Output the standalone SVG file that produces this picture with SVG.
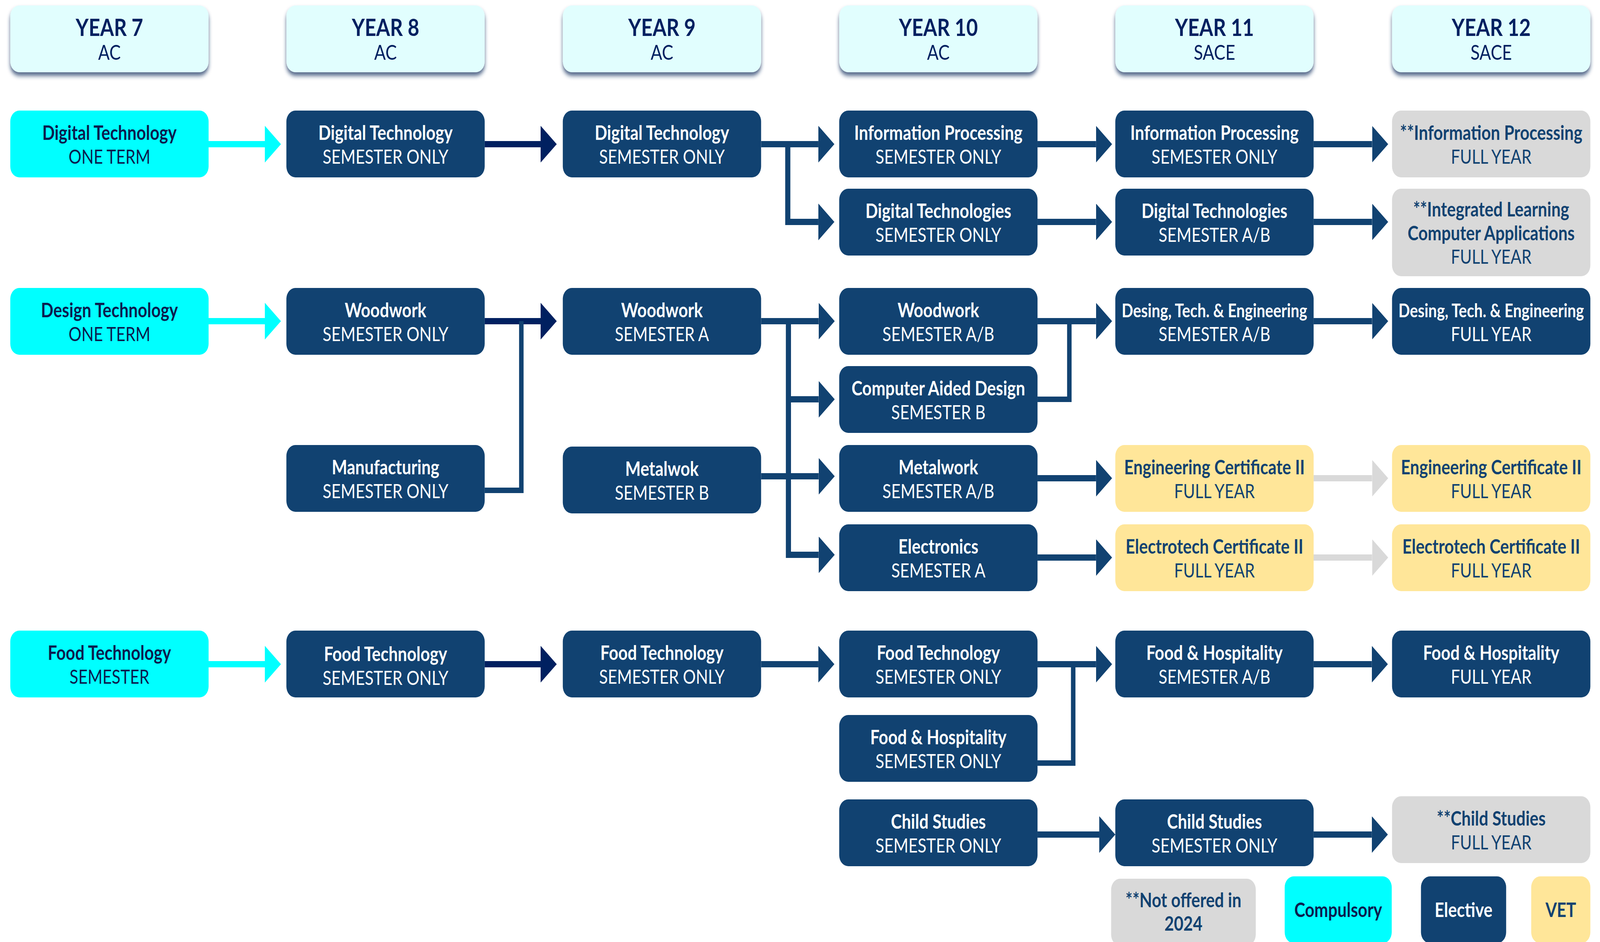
<svg xmlns="http://www.w3.org/2000/svg" width="4978" height="2411" viewBox="0 0 4978 2411" preserveAspectRatio="none">
<defs>
<style>
svg:root{width:100vw;height:100vh}
text{font-family:Lato,"Open Sans","Liberation Sans",sans-serif;text-anchor:middle}
.t1{font-size:51px;font-weight:700}
.t1s{font-size:47px;font-weight:700}
.t2{font-size:50px;font-weight:400}
.l1{font-size:51px;font-weight:700}
.h1{font-size:62px;font-weight:700;fill:#002060}
.h2{font-size:53px;font-weight:400;fill:#002060}
.hdr rect{fill:#E1FEFE;filter:url(#sh)}
.comp rect{fill:#00FFFF}
.comp text{fill:#0B1D4F}
.elec rect{fill:#114271}
.elec text{fill:#FFFFFF}
.na rect{fill:#D9D9D9}
.na text{fill:#114271}
.vet rect{fill:#FFE699}
.vet text{fill:#114271}
.c{fill:none;stroke-width:16;stroke-linejoin:miter}
.cy{stroke:#00FFFF;marker-end:url(#aCy)}
.nv{stroke:#002060;marker-end:url(#aNv)}
.bl{stroke:#114271;marker-end:url(#aBl)}
.fd{stroke:#114271;stroke-width:14}
.gy{stroke:#D9D9D9;marker-end:url(#aGy)}
</style>
<filter id="sh" x="-10%" y="-20%" width="120%" height="150%">
<feDropShadow dx="0" dy="9" stdDeviation="6" flood-color="#1F3864" flood-opacity="0.75"/>
</filter>
<marker id="aCy" markerUnits="userSpaceOnUse" viewBox="0 0 50 94" markerWidth="50" markerHeight="94" refX="0" refY="47" orient="auto"><path d="M0,0L50,47L0,94Z" fill="#00FFFF"/></marker>
<marker id="aNv" markerUnits="userSpaceOnUse" viewBox="0 0 50 94" markerWidth="50" markerHeight="94" refX="0" refY="47" orient="auto"><path d="M0,0L50,47L0,94Z" fill="#002060"/></marker>
<marker id="aBl" markerUnits="userSpaceOnUse" viewBox="0 0 50 94" markerWidth="50" markerHeight="94" refX="0" refY="47" orient="auto"><path d="M0,0L50,47L0,94Z" fill="#114271"/></marker>
<marker id="aGy" markerUnits="userSpaceOnUse" viewBox="0 0 50 94" markerWidth="50" markerHeight="94" refX="0" refY="47" orient="auto"><path d="M0,0L50,47L0,94Z" fill="#D9D9D9"/></marker>
</defs>
<rect width="4978" height="2411" fill="#FFFFFF"/>

<g id="headers">
<g id="h7" class="hdr"><rect x="32" y="14" width="617" height="171" rx="28"/><text class="h1" x="340.5" y="92">YEAR 7</text><text class="h2" x="340.5" y="153">AC</text></g>
<g id="h8" class="hdr"><rect x="891" y="14" width="617" height="171" rx="28"/><text class="h1" x="1199.5" y="92">YEAR 8</text><text class="h2" x="1199.5" y="153">AC</text></g>
<g id="h9" class="hdr"><rect x="1751" y="14" width="617" height="171" rx="28"/><text class="h1" x="2059.5" y="92">YEAR 9</text><text class="h2" x="2059.5" y="153">AC</text></g>
<g id="h10" class="hdr"><rect x="2611" y="14" width="617" height="171" rx="28"/><text class="h1" x="2919.5" y="92">YEAR 10</text><text class="h2" x="2919.5" y="153">AC</text></g>
<g id="h11" class="hdr"><rect x="3470" y="14" width="617" height="171" rx="28"/><text class="h1" x="3778.5" y="92">YEAR 11</text><text class="h2" x="3778.5" y="153">SACE</text></g>
<g id="h12" class="hdr"><rect x="4331" y="14" width="617" height="171" rx="28"/><text class="h1" x="4639.5" y="92">YEAR 12</text><text class="h2" x="4639.5" y="153">SACE</text></g>
</g>

<g id="connectors">
<path class="c cy" d="M649,369H824"/>
<path class="c cy" d="M649,822H824"/>
<path class="c cy" d="M649,1700H824"/>
<path class="c nv" d="M1508,369H1682"/>
<path class="c nv" d="M1508,822H1682"/>
<path class="c nv" d="M1508,1700H1682"/>
<path class="c fd" d="M1508,1255H1622V822"/>
<path class="c bl" d="M2368,369H2546"/>
<path class="c bl" d="M2451,369V568H2546"/>
<path class="c bl" d="M2368,822H2547"/>
<path class="c bl" d="M2453,822V1420H2547"/>
<path class="c bl" d="M2453,1022H2547"/>
<path class="c bl" d="M2368,1219H2547"/>
<path class="c bl" d="M2368,1700H2546"/>
<path class="c bl" d="M3228,369H3410"/>
<path class="c bl" d="M3228,568H3410"/>
<path class="c bl" d="M3228,822H3410"/>
<path class="c fd" d="M3228,1022H3327V822"/>
<path class="c bl" d="M3228,1224H3410"/>
<path class="c bl" d="M3228,1427H3410"/>
<path class="c bl" d="M3228,1700H3410"/>
<path class="c fd" d="M3228,1953H3339V1700"/>
<path class="c bl" d="M3228,2136H3420"/>
<path class="c bl" d="M4087,369H4269"/>
<path class="c bl" d="M4087,568H4269"/>
<path class="c bl" d="M4087,822H4269"/>
<path class="c gy" d="M4087,1224H4269"/>
<path class="c gy" d="M4073,1427H4269"/>
<path class="c bl" d="M4087,1700H4268"/>
<path class="c bl" d="M4087,2136H4268"/>
</g>

<g id="n7dt" class="comp"><rect x="32" y="283" width="617" height="171" rx="28"/><text class="t1" x="340.5" y="358">Digital Technology</text><text class="t2" x="340.5" y="419">ONE TERM</text></g>
<g id="n8dt" class="elec"><rect x="891" y="283" width="617" height="171" rx="28"/><text class="t1" x="1199.5" y="358">Digital Technology</text><text class="t2" x="1199.5" y="419">SEMESTER ONLY</text></g>
<g id="n9dt" class="elec"><rect x="1751" y="283" width="617" height="171" rx="28"/><text class="t1" x="2059.5" y="358">Digital Technology</text><text class="t2" x="2059.5" y="419">SEMESTER ONLY</text></g>
<g id="n10ip" class="elec"><rect x="2611" y="283" width="617" height="171" rx="28"/><text class="t1" x="2919.5" y="358">Information Processing</text><text class="t2" x="2919.5" y="419">SEMESTER ONLY</text></g>
<g id="n11ip" class="elec"><rect x="3470" y="283" width="617" height="171" rx="28"/><text class="t1" x="3778.5" y="358">Information Processing</text><text class="t2" x="3778.5" y="419">SEMESTER ONLY</text></g>
<g id="n12ip" class="na"><rect x="4331" y="283" width="617" height="171" rx="28"/><text class="t1" x="4639.5" y="358">**Information Processing</text><text class="t2" x="4639.5" y="419">FULL YEAR</text></g>

<g id="n10dts" class="elec"><rect x="2611" y="483" width="617" height="171" rx="28"/><text class="t1" x="2919.5" y="558">Digital Technologies</text><text class="t2" x="2919.5" y="619">SEMESTER ONLY</text></g>
<g id="n11dts" class="elec"><rect x="3470" y="483" width="617" height="171" rx="28"/><text class="t1" x="3778.5" y="558">Digital Technologies</text><text class="t2" x="3778.5" y="619">SEMESTER A/B</text></g>
<g id="n12il" class="na"><rect x="4331" y="483" width="617" height="224" rx="28"/><text class="t1" x="4639.5" y="554">**Integrated Learning</text><text class="t1" x="4639.5" y="615">Computer Applications</text><text class="t2" x="4639.5" y="675">FULL YEAR</text></g>

<g id="n7des" class="comp"><rect x="32" y="737" width="617" height="171" rx="28"/><text class="t1" x="340.5" y="812">Design Technology</text><text class="t2" x="340.5" y="873">ONE TERM</text></g>
<g id="n8ww" class="elec"><rect x="891" y="737" width="617" height="171" rx="28"/><text class="t1" x="1199.5" y="812">Woodwork</text><text class="t2" x="1199.5" y="873">SEMESTER ONLY</text></g>
<g id="n9ww" class="elec"><rect x="1751" y="737" width="617" height="171" rx="28"/><text class="t1" x="2059.5" y="812">Woodwork</text><text class="t2" x="2059.5" y="873">SEMESTER A</text></g>
<g id="n10ww" class="elec"><rect x="2611" y="737" width="617" height="171" rx="28"/><text class="t1" x="2919.5" y="812">Woodwork</text><text class="t2" x="2919.5" y="873">SEMESTER A/B</text></g>
<g id="n11dte" class="elec"><rect x="3470" y="737" width="617" height="171" rx="28"/><text class="t1s" x="3778.5" y="812">Desing, Tech. &amp; Engineering</text><text class="t2" x="3778.5" y="873">SEMESTER A/B</text></g>
<g id="n12dte" class="elec"><rect x="4331" y="737" width="617" height="171" rx="28"/><text class="t1s" x="4639.5" y="812">Desing, Tech. &amp; Engineering</text><text class="t2" x="4639.5" y="873">FULL YEAR</text></g>

<g id="n10cad" class="elec"><rect x="2611" y="937" width="617" height="171" rx="28"/><text class="t1" x="2919.5" y="1012">Computer Aided Design</text><text class="t2" x="2919.5" y="1073">SEMESTER B</text></g>

<g id="n8man" class="elec"><rect x="891" y="1139" width="617" height="171" rx="28"/><text class="t1" x="1199.5" y="1214">Manufacturing</text><text class="t2" x="1199.5" y="1275">SEMESTER ONLY</text></g>
<g id="n9mw" class="elec"><rect x="1751" y="1143" width="617" height="171" rx="28"/><text class="t1" x="2059.5" y="1218">Metalwok</text><text class="t2" x="2059.5" y="1279">SEMESTER B</text></g>
<g id="n10mw" class="elec"><rect x="2611" y="1139" width="617" height="171" rx="28"/><text class="t1" x="2919.5" y="1214">Metalwork</text><text class="t2" x="2919.5" y="1275">SEMESTER A/B</text></g>
<g id="n11eng" class="vet"><rect x="3470" y="1139" width="617" height="171" rx="28"/><text class="t1" x="3778.5" y="1214">Engineering Certificate II</text><text class="t2" x="3778.5" y="1275">FULL YEAR</text></g>
<g id="n12eng" class="vet"><rect x="4331" y="1139" width="617" height="171" rx="28"/><text class="t1" x="4639.5" y="1214">Engineering Certificate II</text><text class="t2" x="4639.5" y="1275">FULL YEAR</text></g>

<g id="n10el" class="elec"><rect x="2611" y="1342" width="617" height="171" rx="28"/><text class="t1" x="2919.5" y="1417">Electronics</text><text class="t2" x="2919.5" y="1478">SEMESTER A</text></g>
<g id="n11et" class="vet"><rect x="3470" y="1342" width="617" height="171" rx="28"/><text class="t1" x="3778.5" y="1417">Electrotech Certificate II</text><text class="t2" x="3778.5" y="1478">FULL YEAR</text></g>
<g id="n12et" class="vet"><rect x="4331" y="1342" width="617" height="171" rx="28"/><text class="t1" x="4639.5" y="1417">Electrotech Certificate II</text><text class="t2" x="4639.5" y="1478">FULL YEAR</text></g>

<g id="n7ft" class="comp"><rect x="32" y="1614" width="617" height="171" rx="28"/><text class="t1" x="340.5" y="1689">Food Technology</text><text class="t2" x="340.5" y="1750">SEMESTER</text></g>
<g id="n8ft" class="elec"><rect x="891" y="1614" width="617" height="171" rx="28"/><text class="t1" x="1199.5" y="1692">Food Technology</text><text class="t2" x="1199.5" y="1753">SEMESTER ONLY</text></g>
<g id="n9ft" class="elec"><rect x="1751" y="1614" width="617" height="171" rx="28"/><text class="t1" x="2059.5" y="1689">Food Technology</text><text class="t2" x="2059.5" y="1750">SEMESTER ONLY</text></g>
<g id="n10ft" class="elec"><rect x="2611" y="1614" width="617" height="171" rx="28"/><text class="t1" x="2919.5" y="1689">Food Technology</text><text class="t2" x="2919.5" y="1750">SEMESTER ONLY</text></g>
<g id="n11fh" class="elec"><rect x="3470" y="1614" width="617" height="171" rx="28"/><text class="t1" x="3778.5" y="1689">Food &amp; Hospitality</text><text class="t2" x="3778.5" y="1750">SEMESTER A/B</text></g>
<g id="n12fh" class="elec"><rect x="4331" y="1614" width="617" height="171" rx="28"/><text class="t1" x="4639.5" y="1689">Food &amp; Hospitality</text><text class="t2" x="4639.5" y="1750">FULL YEAR</text></g>

<g id="n10fh" class="elec"><rect x="2611" y="1830" width="617" height="171" rx="28"/><text class="t1" x="2919.5" y="1905">Food &amp; Hospitality</text><text class="t2" x="2919.5" y="1966">SEMESTER ONLY</text></g>

<g id="n10cs" class="elec"><rect x="2611" y="2046" width="617" height="171" rx="28"/><text class="t1" x="2919.5" y="2121">Child Studies</text><text class="t2" x="2919.5" y="2182">SEMESTER ONLY</text></g>
<g id="n11cs" class="elec"><rect x="3470" y="2046" width="617" height="171" rx="28"/><text class="t1" x="3778.5" y="2121">Child Studies</text><text class="t2" x="3778.5" y="2182">SEMESTER ONLY</text></g>
<g id="n12cs" class="na"><rect x="4331" y="2038" width="617" height="171" rx="28"/><text class="t1" x="4639.5" y="2113">**Child Studies</text><text class="t2" x="4639.5" y="2174">FULL YEAR</text></g>

<g id="legend">
<g id="lg-na" class="na"><rect x="3457" y="2249" width="450" height="171" rx="28"/><text class="l1" x="3682" y="2322">**Not offered in</text><text class="l1" x="3682" y="2382">2024</text></g>
<g id="lg-comp" class="comp"><rect x="3997" y="2243" width="333" height="171" rx="28"/><text class="l1" x="4163.5" y="2347">Compulsory</text></g>
<g id="lg-elec" class="elec"><rect x="4421" y="2243" width="265" height="171" rx="28"/><text class="l1" x="4553.5" y="2347">Elective</text></g>
<g id="lg-vet" class="vet"><rect x="4764" y="2243" width="184" height="171" rx="28"/><text class="l1" x="4856" y="2347">VET</text></g>
</g>
</svg>
